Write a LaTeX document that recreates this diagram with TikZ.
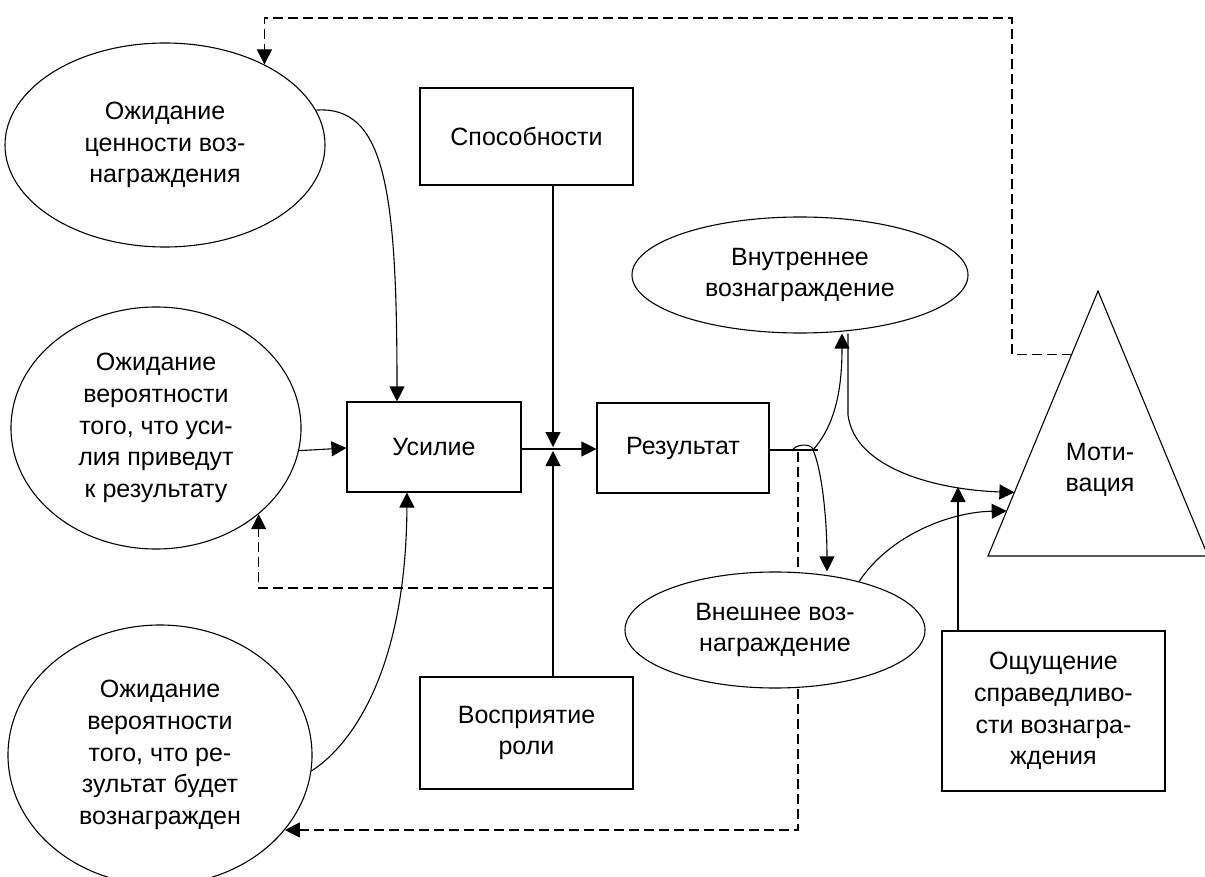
\documentclass[tikz,border=0pt]{standalone}
\usepackage{fontspec}
\setmainfont{Liberation Sans}
\usetikzlibrary{arrows.meta,calc,shapes.geometric}
\tikzset{
  base/.style={draw, line width=1.1pt, font=\fontsize{25pt}{31.6pt}\selectfont, align=center, inner sep=0pt},
  oval/.style={base, ellipse},
  boxnode/.style={base, rectangle},
  conn/.style={line width=1.1pt},
  arr/.style={conn, -{Triangle[length=15pt,width=15pt]}},
  dsh/.style={dash pattern=on 10pt off 5pt},
}
\begin{document}
\begin{tikzpicture}[x=1pt,y=-1pt]
\fill[white] (0,0) rectangle (1205,877);
\useasboundingbox (0,0) rectangle (1205,877);

% nodes
\node[oval, minimum width=320pt, minimum height=204pt] (e1) at (165,145) {Ожидание\\ценности воз-\\награждения};
\node[oval, minimum width=290pt, minimum height=242pt] (e2) at (156,428) {Ожидание\\вероятности\\того, что уси-\\лия приведут\\к результату};
\node[oval, minimum width=304pt, minimum height=260pt] (e3) at (160,755) {Ожидание\\вероятности\\того, что ре-\\зультат будет\\вознагражден};
\node[boxnode, minimum width=213pt, minimum height=97pt] (sposob) at (526.5,136.5) {Способности};
\node[boxnode, minimum width=174pt, minimum height=90pt] (usil) at (434,447) {Усилие};
\node[boxnode, minimum width=172pt, minimum height=90pt] (rez) at (683,448) {Результат};
\node[boxnode, minimum width=213pt, minimum height=112pt] (vospr) at (526.5,733) {Восприятие\\роли};
\node[oval, minimum width=336pt, minimum height=116pt] (vnutr) at (800,275) {Внутреннее\\вознаграждение};
\node[oval, minimum width=300pt, minimum height=116pt] (vnesh) at (775,630) {Внешнее воз-\\награждение};
\node[boxnode, minimum width=223pt, minimum height=160pt] (osch) at (1053.5,711) {Ощущение\\справедливо-\\сти вознагра-\\ждения};

% triangle "Мотивация"
\coordinate (A) at (1098,291);
\coordinate (L) at (988,556);
\coordinate (R) at (1208,556);
\draw[conn, line join=miter] (A) -- (L) -- (R) -- cycle;
\node[font=\fontsize{25pt}{31.6pt}\selectfont, align=center, inner sep=0pt] (motiv) at (1100,470) {Моти-\\вация};

% junction points
\coordinate (J) at (553,449);
\coordinate (D1) at (553,588);
\coordinate (B) at (813,450);
\coordinate (K) at (958,487);

% connectors into "Усилие"
\draw[arr] (e1.13) .. controls (385,105) and (397,190) .. ([xshift=-37pt]usil.north);
\draw[arr] (e2.-9) -- ([yshift=-1pt]usil.west);
\draw[arr] (e3.-6) .. controls (345,750) and (406,680) .. ([xshift=-27pt]usil.south);

% Усилие -> Результат
\draw[arr] ([yshift=-2pt]usil.east) -- ([yshift=-1pt]rez.west);

% Способности / Восприятие роли -> junction
\draw[arr] ([xshift=26.5pt]sposob.south) -- ([yshift=2pt]J);
\draw[arr] ([xshift=26.5pt]vospr.north) -- ([yshift=-2pt]J);

% dashed feedback to e2
\draw[conn,dsh,arr] (D1) -| (e2.-40);

% from Результат
\draw[conn] ([yshift=-2pt]rez.east) -- (818,450);
\draw[conn] (792,451) .. controls (795,444) and (810,443) .. (813,449);
\draw[arr] (B) .. controls (835,425) and (842,390) .. ([xshift=42pt]vnutr.south);
\draw[arr] (B) .. controls (822,470) and (827,520) .. ([xshift=52pt]vnesh.north);
\draw[conn,dsh] (798,452) -- ([xshift=23pt]vnesh.north);
\draw[conn,dsh,arr] ([xshift=23pt]vnesh.south) |- (e3.-31);

% into Мотивация
\draw[arr] ([xshift=48pt]vnutr.south) -- (848,415) .. controls (855,470) and (940,490) .. ($(A)!0.76!(L)$);
\draw[arr] (vnesh.30) .. controls (890,535) and (950,512) .. ($(A)!0.83!(L)$);
\draw[arr] ([xshift=-95.5pt]osch.north) -- (K);

% dashed feedback from Мотивация to e1
\draw[conn,dsh,arr] ($(A)!0.24!(L)$) -| (1012,18) -| (e1.39);
\end{tikzpicture}
\end{document}
